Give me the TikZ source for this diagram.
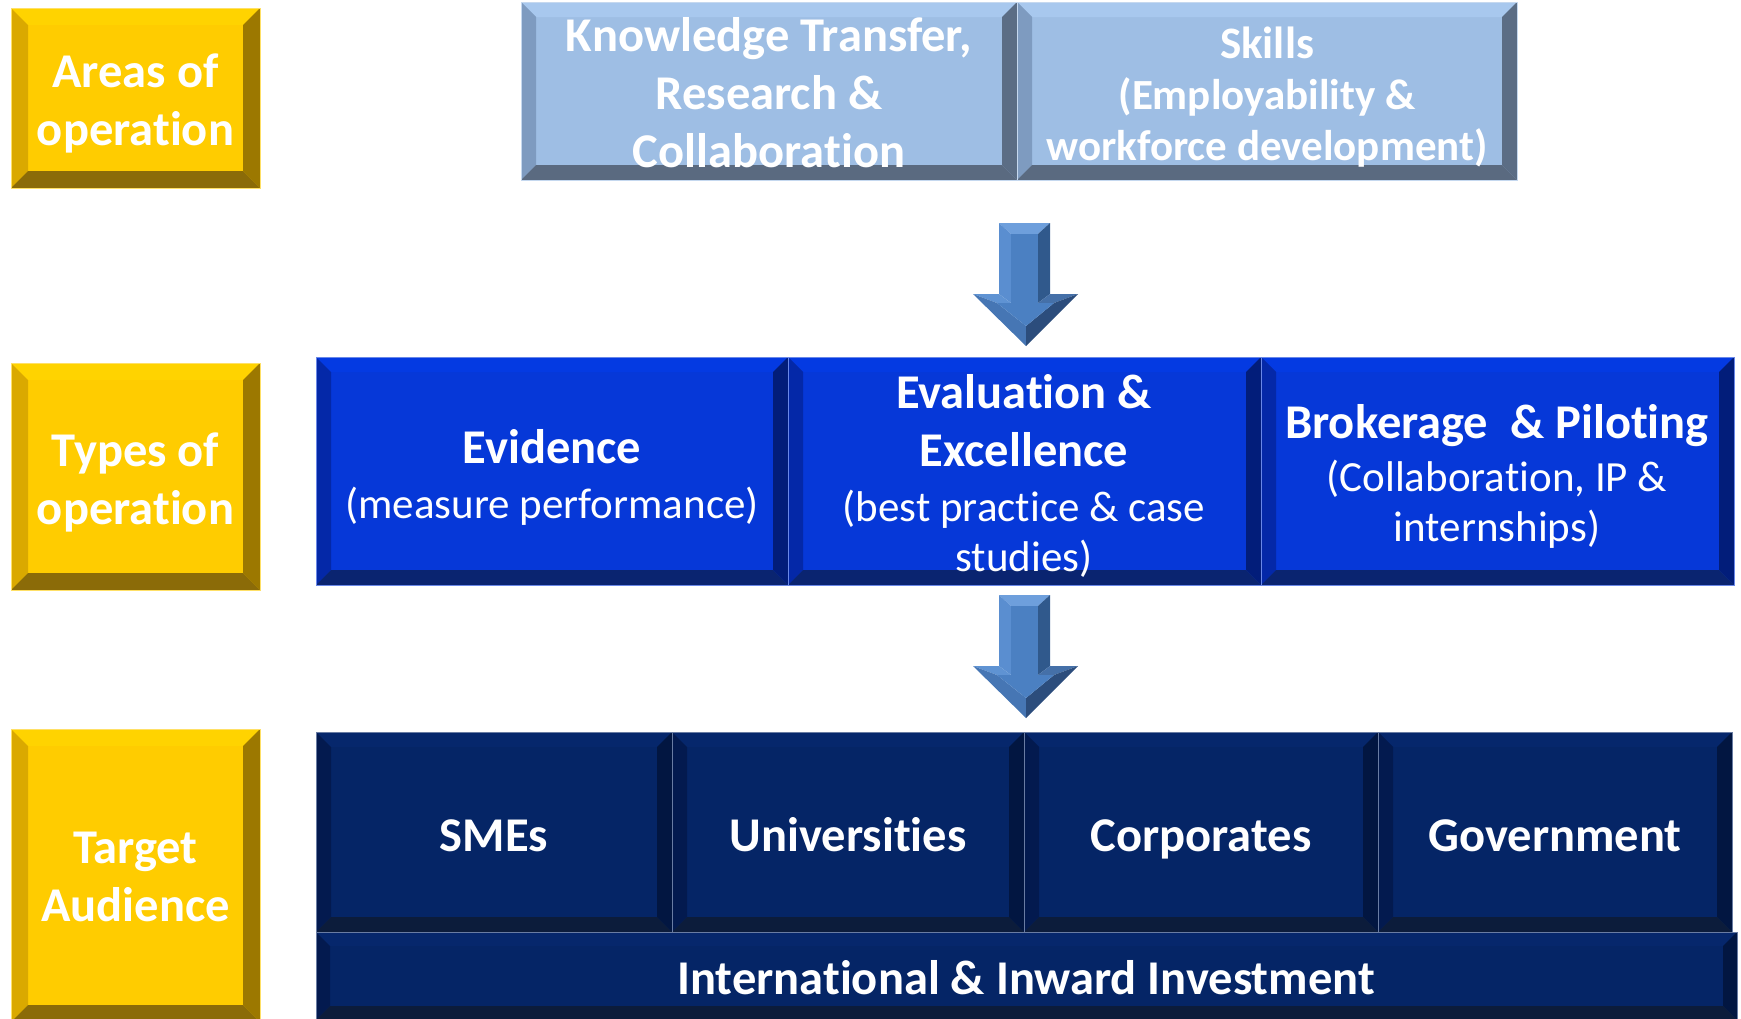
\documentclass[tikz,border=0pt]{standalone}
\usepackage{fontspec}
\setmainfont[Ligatures={NoCommon}]{Carlito}
% yellow
\definecolor{yF}{HTML}{FFCC00}\definecolor{yT}{HTML}{FFD300}\definecolor{yL}{HTML}{DAA900}
\definecolor{yR}{HTML}{9C7800}\definecolor{yB}{HTML}{8B6B08}
% light blue
\definecolor{lF}{HTML}{9EBEE4}\definecolor{lT}{HTML}{A8C8EE}\definecolor{lL}{HTML}{7E9BC0}
\definecolor{lR}{HTML}{5B6D85}\definecolor{lB}{HTML}{5A6A80}
% blue
\definecolor{bF}{HTML}{0638D8}\definecolor{bT}{HTML}{043AE2}\definecolor{bL}{HTML}{0428A8}
\definecolor{bR}{HTML}{021D7A}\definecolor{bB}{HTML}{0A2470}
% navy
\definecolor{nF}{HTML}{052566}\definecolor{nT}{HTML}{06276C}\definecolor{nL}{HTML}{031A4F}
\definecolor{nR}{HTML}{021641}\definecolor{nB}{HTML}{0C1C3B}
% arrow
\definecolor{aF}{HTML}{4B80C2}\definecolor{aT}{HTML}{6E9FDC}\definecolor{aL}{HTML}{5A8ED0}
\definecolor{aR}{HTML}{30598C}\definecolor{aW}{HTML}{5F93D3}\definecolor{aV}{HTML}{4570A8}
\definecolor{aHL}{HTML}{4676B4}\definecolor{aHR}{HTML}{2C4D7C}

\newcommand\bevbox[6]{%
 \fill[#6F] (#1,#2) rectangle (#3,#4);
 \fill[#6T] (#1,#2) -- (#3,#2) -- ({#3-#5},{#2+#5}) -- ({#1+#5},{#2+#5}) -- cycle;
 \fill[#6L] (#1,#2) -- ({#1+#5},{#2+#5}) -- ({#1+#5},{#4-#5}) -- (#1,#4) -- cycle;
 \fill[#6R] (#3,#2) -- ({#3-#5},{#2+#5}) -- ({#3-#5},{#4-#5}) -- (#3,#4) -- cycle;
 \fill[#6B] (#1,#4) -- ({#1+#5},{#4-#5}) -- ({#3-#5},{#4-#5}) -- (#3,#4) -- cycle;
 \draw[#6F!60!white, line width=0.7pt] (#1,#2) rectangle (#3,#4);
}
\newcommand\bigarrow[1]{%
 \begin{scope}[shift={(0,#1)}]
  \fill[aT] (999,223) -- (1050,223) -- (1038,234) -- (1011,234) -- cycle;
  \fill[aL] (999,223) -- (1011,234) -- (1011,303) -- (999,294) -- cycle;
  \fill[aR] (1050,223) -- (1038,234) -- (1038,303) -- (1050,294) -- cycle;
  \fill[aF] (1011,234) rectangle (1038,303);
  \fill[aW] (973,294) -- (999,294) -- (1011,303) -- (997,303) -- cycle;
  \fill[aV] (1078,294) -- (1050,294) -- (1038,303) -- (1054,303) -- cycle;
  \fill[aHL] (973,294) -- (997,303) -- (1026,326) -- (1026,346) -- cycle;
  \fill[aHR] (1078,294) -- (1054,303) -- (1026,326) -- (1026,346) -- cycle;
  \fill[aF] (997,303) -- (1054,303) -- (1026,326) -- cycle;
 \end{scope}}

\newcommand\ttlf{\fontsize{48.5}{58}\selectfont\bfseries}
\newcommand\subf{\fontsize{43}{50}\selectfont\mdseries}
\newcommand\cbox[2]{\parbox{#1pt}{\centering #2\par}}

\begin{document}
\begin{tikzpicture}[x=1pt,y=-1pt,
  txt/.style={text=white, inner sep=0pt, align=center},
  big/.style={txt, font=\fontsize{48.5}{58}\selectfont\bfseries},
  pb/.style={text=white, inner sep=0pt}]
\useasboundingbox (0,0) rectangle (1741,1018);
\clip (0,0) rectangle (1741,1018);

% left labels
\bevbox{11}{8}{260}{188}{17}{y}
\bevbox{11}{363}{260}{590}{17}{y}
\bevbox{11}{729}{260}{1022}{17}{y}
\node[big] (areas) at (135.5,103) {Areas of\\operation};
\node[big] (types) at (135.5,482) {Types of\\operation};
\node[big] (target) at (135.5,877) {Target\\Audience};

% areas of operation
\bevbox{521}{2}{1017}{180}{15}{l}
\bevbox{1017}{2}{1517}{180}{15}{l}
\node[big] (kt) at (769,93) {Knowledge Transfer,\\Research \&\\Collaboration};
\node[pb] (skills) at (1267,97) {\cbox{490}{\bfseries\fontsize{45}{53}\selectfont Skills\par\fontsize{43}{51}\selectfont (Employability \&\\workforce development)}};

\bigarrow{0}

% types of operation
\bevbox{316}{357}{788}{585}{15}{b}
\bevbox{788}{357}{1261}{585}{15}{b}
\bevbox{1261}{357}{1734}{585}{15}{b}
\node[pb] (evid) at (552,477) {\cbox{460}{\ttlf Evidence\par\vspace{5pt}\subf (measure performance)}};
\node[pb] (eval) at (1024,476) {\cbox{460}{\ttlf Evaluation \&\\Excellence\par\vspace{5pt}\subf (best practice \& case\\studies)}};
\node[pb] (brok) at (1497,476) {\cbox{470}{\ttlf Brokerage\ \ \& Piloting\par\vspace{3pt}\subf (Collaboration, IP \&\\internships)}};

\bigarrow{372}

% target audience
\bevbox{316}{732}{672}{932}{15}{n}
\bevbox{672}{732}{1024}{932}{15}{n}
\bevbox{1024}{732}{1378}{932}{15}{n}
\bevbox{1378}{732}{1732}{932}{15}{n}
\bevbox{316}{932}{1737}{1020}{14}{n}
\node[big, anchor=base] (smes) at (494,851) {SMEs};
\node[big, anchor=base] (univ) at (848,851) {Universities};
\node[big, anchor=base] (corp) at (1201,851) {Corporates};
\node[big, anchor=base] (gov) at (1555,851) {Government};
\node[big, anchor=base] (intl) at (1026,994) {International \& Inward Investment};
\end{tikzpicture}
\end{document}
